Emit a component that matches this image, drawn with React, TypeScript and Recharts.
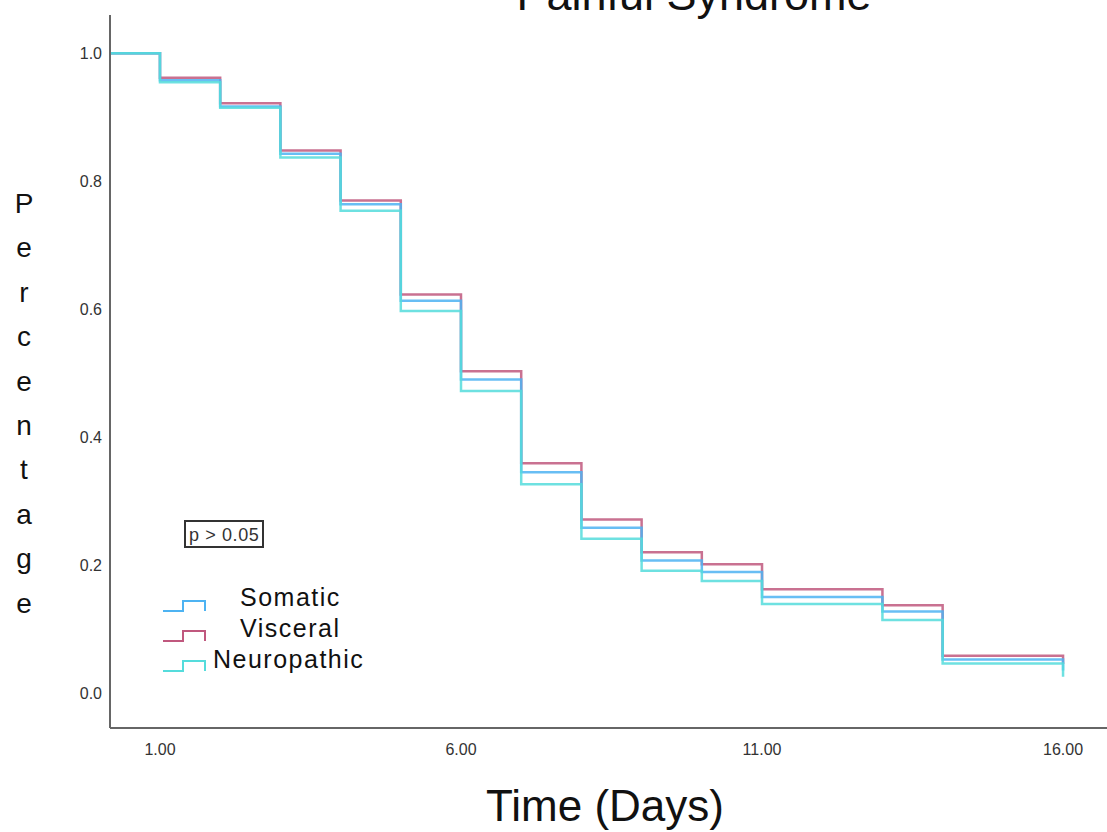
import { Line, LineChart, XAxis, YAxis } from "recharts"

const days = [0, 1, 2, 3, 4, 5, 6, 7, 8, 9, 10, 11, 13, 14, 16]
const somatic = [1.0, 0.958, 0.917, 0.843, 0.764, 0.613, 0.49, 0.345, 0.258, 0.207, 0.189, 0.15, 0.127, 0.052, 0.035]
const visceral = [1.0, 0.962, 0.922, 0.848, 0.77, 0.623, 0.503, 0.359, 0.271, 0.22, 0.201, 0.162, 0.137, 0.058, 0.045]
const neuropathic = [1.0, 0.955, 0.915, 0.837, 0.754, 0.597, 0.472, 0.326, 0.241, 0.191, 0.175, 0.139, 0.114, 0.046, 0.025]

const xTicks = [1, 6, 11, 16]
const yTicks = [0, 0.2, 0.4, 0.6, 0.8, 1.0]
const yLabel = "Percentage"

const series = [
  { key: "visceral", name: "Visceral", color: "#c0587e" },
  { key: "somatic", name: "Somatic", color: "#4db3f2" },
  { key: "neuropathic", name: "Neuropathic", color: "#55dcdc" },
]

const legendItems = [
  { name: "Somatic", color: "#4db3f2", textX: 240 },
  { name: "Visceral", color: "#c0587e", textX: 240 },
  { name: "Neuropathic", color: "#55dcdc", textX: 213 },
]

const data = days.map((d, i) => ({
  day: d,
  somatic: somatic[i],
  visceral: visceral[i],
  neuropathic: neuropathic[i],
}))

const font = "'Liberation Sans', Arial, sans-serif"

export default function App() {
  return (
    <div style={{ position: "absolute", top: 0, left: 0, width: 1107, height: 832, background: "#fff", fontFamily: font }}>
      <LineChart width={1107} height={832} data={data} margin={{ top: 15, right: 0, bottom: 0, left: 0 }}>
        <XAxis
          dataKey="day"
          type="number"
          domain={[0.17, 16.73]}
          allowDataOverflow
          ticks={xTicks}
          tickFormatter={(v) => Number(v).toFixed(2)}
          tickLine={false}
          tickMargin={10}
          height={104}
          stroke="#666"
          strokeWidth={2}
          tick={{ fill: "#333", fontSize: 16, fontFamily: font }}
        />
        <YAxis
          type="number"
          domain={[-0.055, 1.06]}
          allowDataOverflow
          ticks={yTicks}
          tickFormatter={(v) => Number(v).toFixed(1)}
          tickLine={false}
          width={110}
          stroke="#666"
          strokeWidth={2}
          tick={{ fill: "#333", fontSize: 16, fontFamily: font }}
        />
        {series.map((s) => (
          <Line
            key={s.key}
            dataKey={s.key}
            name={s.name}
            type="stepAfter"
            stroke={s.color}
            strokeWidth={2.5}
            strokeOpacity={0.85}
            dot={false}
            activeDot={false}
            isAnimationActive={false}
          />
        ))}
      </LineChart>
      <svg width={1107} height={832} style={{ position: "absolute", top: 0, left: 0, pointerEvents: "none" }}>
        <text x={694} y={10} textAnchor="middle" fontSize={45} fontFamily={font} fill="#111">
          Painful Syndrome
        </text>
        <text x={605} y={821} textAnchor="middle" fontSize={44} fontFamily={font} fill="#111">
          Time (Days)
        </text>
        {yLabel.split("").map((ch, i) => (
          <text key={i} x={24} y={213 + i * 44.4} textAnchor="middle" fontSize={28} fontFamily={font} fill="#111">
            {ch}
          </text>
        ))}
        <rect x={185} y={521} width={78} height={26} fill="#fff" stroke="#333" strokeWidth={2} />
        <text x={189} y={541} fontSize={18} fontFamily={font} fill="#333" letterSpacing={0.6}>
          p &gt; 0.05
        </text>
        {legendItems.map((it, i) => {
          const low = 611 + i * 30
          const high = low - 10
          return (
            <g key={it.name}>
              <path
                d={`M163,${low} H183 V${high} H205 V${low}`}
                fill="none"
                stroke={it.color}
                strokeWidth={2}
              />
              <text x={it.textX} y={606 + i * 31} fontSize={25} fontFamily={font} fill="#111" letterSpacing={1.5}>
                {it.name}
              </text>
            </g>
          )
        })}
      </svg>
    </div>
  )
}
